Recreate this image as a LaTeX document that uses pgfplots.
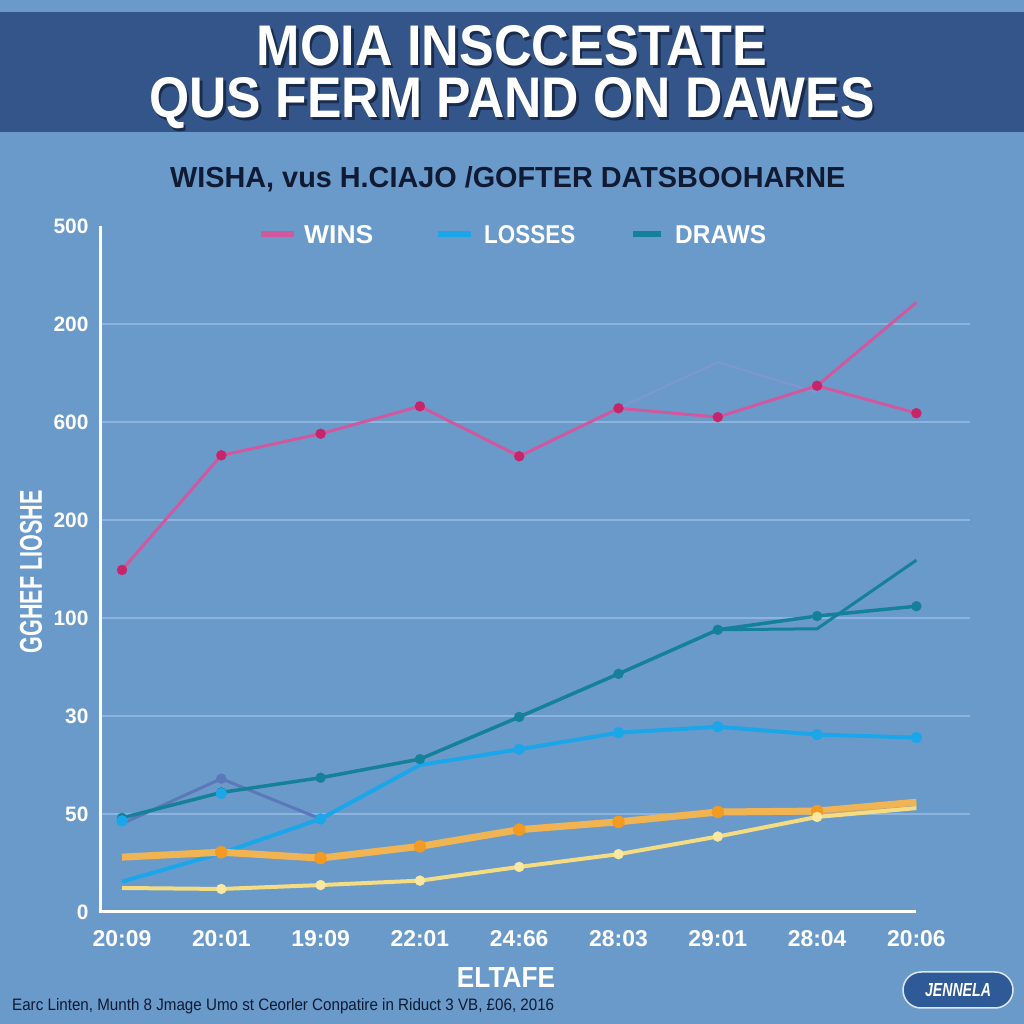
\documentclass[border=0pt]{standalone}
\usepackage{pgfplots}
\pgfplotsset{compat=1.18}
\usepackage{fontspec}
\setmainfont{Liberation Sans}
\definecolor{bg}{HTML}{6A9ACA}
\definecolor{banner}{HTML}{33558A}
\definecolor{navy}{HTML}{101A33}
\definecolor{shadowc}{HTML}{1A2C4C}
\definecolor{gridc}{HTML}{8DB4DC}
\definecolor{winsl}{HTML}{D0589E}
\definecolor{winsm}{HTML}{C8246A}
\definecolor{lossc}{HTML}{1CA6EA}
\definecolor{drawc}{HTML}{15809A}
\definecolor{slate}{HTML}{5A78BA}
\definecolor{lav}{HTML}{8C94D8}
\definecolor{orl}{HTML}{F0B452}
\definecolor{orm}{HTML}{F39A22}
\definecolor{yel}{HTML}{F4DC82}
\definecolor{yelm}{HTML}{FAE8A0}
\definecolor{tanc}{HTML}{C9A67C}
\definecolor{logoc}{HTML}{2E5A98}
\newcommand{\shadowed}[3]{\makebox[0pt][l]{\hspace{2.5bp}\raisebox{-2.5bp}{\textcolor{shadowc}{\resizebox{#1}{#2}{\bfseries #3}}}}\textcolor{white}{\resizebox{#1}{#2}{\bfseries #3}}}
\begin{document}
\begin{tikzpicture}[x=1bp,y=1bp]
\fill[bg] (0,0) rectangle (1024,1024);
\fill[banner] (0,1012) rectangle (1024,892);
% title
\node[anchor=base, inner sep=0] at (512,958) {\shadowed{510bp}{40bp}{MOIA INSCCESTATE}};
\node[anchor=base, inner sep=0] at (512,906) {\shadowed{725bp}{40bp}{QUS FERM PAND ON DAWES}};
% subtitle
\node[anchor=base west, inner sep=0, text=navy] at (170,836) {\resizebox{675bp}{21bp}{\bfseries WISHA, vus H.CIAJO /GOFTER DATSBOOHARNE}};
% legend
\draw[winsl, line width=6bp] (261,790) -- (294,790);
\node[anchor=base west, inner sep=0, text=white] at (304,780) {\resizebox{69bp}{18bp}{\bfseries WINS}};
\draw[lossc, line width=6bp] (438,790) -- (471,790);
\node[anchor=base west, inner sep=0, text=white] at (484,780) {\resizebox{91bp}{18bp}{\bfseries LOSSES}};
\draw[drawc, line width=6bp] (633,790) -- (661,790);
\node[anchor=base west, inner sep=0, text=white] at (675,780) {\resizebox{91bp}{18bp}{\bfseries DRAWS}};
% y label
\node[rotate=90, anchor=base, inner sep=0, text=white] at (42,452) {\resizebox{163bp}{22bp}{\bfseries GGHEF LIOSHE}};
% x label
\node[anchor=base, inner sep=0, text=white] at (506,36) {\resizebox{98bp}{20bp}{\bfseries ELTAFE}};
% footnote
\node[anchor=base west, inner sep=0, text=navy] at (12,13) {\resizebox{542bp}{12bp}{Earc Linten, Munth 8 Jmage Umo st Ceorler Conpatire in Riduct 3 VB, £06, 2016}};
% logo
\fill[logoc, rounded corners=18bp, draw=white!85!logoc, line width=1.5bp] (903,52) rectangle (1013,16);
\node[text=white, inner sep=0] at (958,34) {\resizebox{66bp}{13bp}{\itshape\bfseries JENNELA}};

\begin{axis}[
  at={(100bp,112bp)}, anchor=south west,
  scale only axis, width=870bp, height=686bp,
  xmin=-0.2216, xmax=8.540, ymin=0, ymax=7,
  axis line style={draw=none}, tick style={draw=none},
  clip=false,
  xtick={0,...,8},
  xticklabels={20:09,20:01,19:09,22:01,24:66,28:03,29:01,28:04,20:06},
  ytick={0,...,7},
  yticklabels={0,50,30,100,200,600,200,500},
  xticklabel style={text=white, font=\fontsize{23}{26}\selectfont\bfseries, yshift=-15bp},
  yticklabel style={text=white, font=\fontsize{21}{24}\selectfont\bfseries, xshift=-8bp},
  /pgf/number format/assume math mode=true,
]
\draw[gridc, line width=1.5bp] (axis cs:-0.2216,1) -- (axis cs:8.54,1);
\draw[gridc, line width=1.5bp] (axis cs:-0.2216,2) -- (axis cs:8.54,2);
\draw[gridc, line width=1.5bp] (axis cs:-0.2216,3) -- (axis cs:8.54,3);
\draw[gridc, line width=1.5bp] (axis cs:-0.2216,4) -- (axis cs:8.54,4);
\draw[gridc, line width=1.5bp] (axis cs:-0.2216,5) -- (axis cs:8.54,5);
\draw[gridc, line width=1.5bp] (axis cs:-0.2216,6) -- (axis cs:8.54,6);
\draw[white, line width=3bp] (axis cs:-0.2216,7) -- (axis cs:-0.2216,0) -- (axis cs:8,0);

% slate
\addplot[slate, line width=3bp, mark=*, mark size=5bp, mark indices={2}, mark options={fill=slate, draw=slate, line width=0.3bp}] coordinates {(0,0.90) (1,1.36) (2,0.95)};
% draws
\addplot[drawc, line width=3bp] coordinates {(6,2.88) (7,2.89) (8,3.59)};
\addplot[drawc, line width=3.5bp, mark=*, mark size=5bp, mark options={fill=drawc, draw=drawc, line width=0.3bp}] coordinates {(0,0.96) (1,1.22) (2,1.37) (3,1.56) (4,1.99) (5,2.43) (6,2.88) (7,3.02) (8,3.12)};
% losses
\addplot[lossc, line width=4bp, mark=*, mark size=5.5bp, mark indices={3,5,6,7,8,9}, mark options={fill=lossc, draw=lossc, line width=0.3bp}] coordinates {(0,0.31) (1,0.60) (2,0.95) (3,1.50) (4,1.66) (5,1.83) (6,1.89) (7,1.81) (8,1.78)};
\addplot[only marks, mark=*, mark size=5.5bp, mark options={fill=lossc, draw=lossc, line width=0.3bp}] coordinates {(0,0.93) (1,1.21)};
% orange
\addplot[orl, line width=7bp, mark=*, mark size=6bp, mark indices={2,3,4,5,6,7,8}, mark options={fill=orm, draw=orm, line width=0.3bp}] coordinates {(0,0.56) (1,0.61) (2,0.55) (3,0.67) (4,0.84) (5,0.92) (6,1.02) (7,1.03) (8,1.12)};
% tan
\addplot[tanc, line width=2bp] coordinates {(7,1.00) (8,1.07)};
% yellow
\addplot[yel, line width=4bp, mark=*, mark size=5bp, mark indices={2,3,4,5,6,7,8}, mark options={fill=yelm, draw=yelm, line width=0.3bp}] coordinates {(0,0.245) (1,0.235) (2,0.275) (3,0.32) (4,0.46) (5,0.59) (6,0.77) (7,0.97) (8,1.06)};
% faint lavender
\addplot[lav, opacity=.6, line width=2bp] coordinates {(5,5.14) (6,5.61) (7,5.30)};
% wins
\addplot[winsl, line width=3bp] coordinates {(7,5.37) (8,6.22)};
\addplot[winsl, line width=3bp, mark=*, mark size=5bp, mark options={fill=winsm, draw=winsm, line width=0.3bp}] coordinates {(0,3.49) (1,4.66) (2,4.88) (3,5.16) (4,4.65) (5,5.14) (6,5.05) (7,5.37) (8,5.09)};
\end{axis}
\end{tikzpicture}
\end{document}
